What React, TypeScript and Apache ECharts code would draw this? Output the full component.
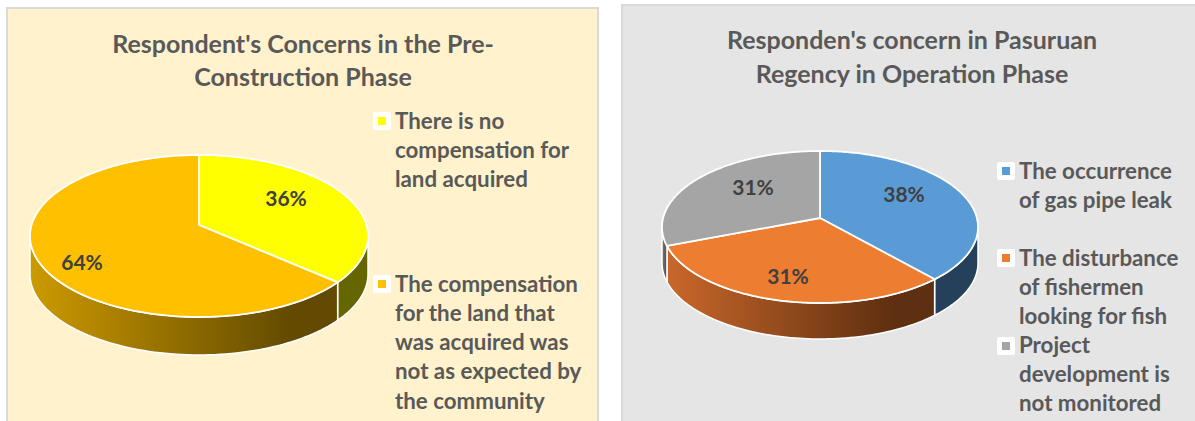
import React, { useEffect, useRef } from "react";
import * as echarts from "echarts";

const leftValues = [36.4, 63.6];
const leftNames = [
  "There is no\ncompensation for\nland acquired",
  "The compensation\nfor the land that\nwas acquired was\nnot as expected by\nthe community",
];
const rightValues = [38.4, 30.8, 30.8];
const rightNames = [
  "The occurrence\nof gas pipe leak",
  "The disturbance\nof fishermen\nlooking for fish",
  "Project\ndevelopment is\nnot monitored",
];
const leftTitle = "Respondent's Concerns in the Pre-\nConstruction Phase";
const rightTitle = "Responden's concern in Pasuruan\nRegency in Operation Phase";

const leftColors = ["#FFFF00", "#FFC000"];
const rightColors = ["#5B9BD5", "#ED7D31", "#A5A5A5"];
const leftWalls = [["#666600", "#666600"], ["#CC9A00", "#634A00"]];
const rightWalls = [["#24405A", "#24405A"], ["#C9672A", "#5E2F10"], ["#777777", "#555555"]];

const FONT = "Lato, Carlito, sans-serif";
const TEXT = "#595959";
const LABEL = "#404040";

const leftGeom = { cx: 199, cy: 225, up: 70, down: 92, rx: 169, depth: 38 };
const rightGeom = { cx: 820, cy: 218, up: 67, down: 85, rx: 158, depth: 36 };
const leftLabelPos = [[286, 198], [82, 262]];
const rightLabelPos = [[904, 194], [788, 276], [753, 187]];
const leftLegendY = [[112, 120], [275, 283]];
const rightLegendY = [[162, 170], [249, 257], [337, 344]];

function project(g: any) {
  const k = (g.down - g.up) / (g.down + g.up);
  const b = g.up * (1 + k);
  const a = g.rx * Math.sqrt(1 - k * k);
  return (r: number, t: number) => {
    const u = r * Math.sin(t);
    const v = r * Math.cos(t);
    const w = 1 + k * v;
    return [g.cx + (a * u) / w, g.cy - (b * v) / w];
  };
}

function pieSeries(values: number[], colors: string[], walls: string[][], g: any, labelPos: number[][]) {
  const total = values.reduce((s, v) => s + v, 0);
  const k = (g.down - g.up) / (g.down + g.up);
  const thetaR = Math.acos(-k);
  const thetaL = 2 * Math.PI - thetaR;
  const map = project(g);
  return {
    type: "custom",
    coordinateSystem: "none",
    silent: true,
    data: values.map((v) => [v]),
    renderItem: (params: any, api: any) => {
      const i = params.dataIndex;
      const before = values.slice(0, i).reduce((s, v) => s + v, 0);
      const a0 = (before / total) * 2 * Math.PI;
      const a1 = ((before + api.value(0)) / total) * 2 * Math.PI;
      const children: any[] = [];
      const w0 = Math.max(a0, thetaR);
      const w1 = Math.min(a1, thetaL);
      if (w1 > w0) {
        const top: number[][] = [];
        const N = 80;
        for (let n = 0; n <= N; n++) top.push(map(1, w0 + ((w1 - w0) * n) / N));
        const bottom = top.map((p) => [p[0], p[1] + g.depth]).reverse();
        children.push({
          type: "polygon",
          z2: 1,
          shape: { points: top.concat(bottom) },
          style: {
            fill: {
              type: "linear", x: 0, y: 0, x2: 1, y2: 0,
              colorStops: [
                { offset: 0, color: walls[i][0] },
                { offset: 0.85, color: walls[i][1] },
                { offset: 1, color: walls[i][1] },
              ],
            },
            stroke: "#ffffff",
            lineWidth: 1.5,
          },
        });
      }
      const pts: number[][] = [[g.cx, g.cy]];
      const M = 160;
      for (let n = 0; n <= M; n++) pts.push(map(1, a0 + ((a1 - a0) * n) / M));
      children.push({
        type: "polygon",
        z2: 2,
        shape: { points: pts },
        style: { fill: colors[i], stroke: "#ffffff", lineWidth: 1.8, lineJoin: "round" },
      });
      children.push({
        type: "text",
        z2: 3,
        style: {
          text: Math.round((api.value(0) / total) * 100) + "%",
          x: labelPos[i][0],
          y: labelPos[i][1] - 1,
          fill: LABEL,
          fontFamily: FONT,
          fontWeight: "bold",
          fontSize: 21,
          align: "center",
          verticalAlign: "middle",
        },
      });
      return { type: "group", children };
    },
  };
}

function legendGraphics(names: string[], colors: string[], ys: number[][], boxX: number, textX: number) {
  const out: any[] = [];
  names.forEach((name, i) => {
    out.push({
      type: "rect", z: 5, shape: { x: boxX, y: ys[i][0], width: 18, height: 18, r: 2 },
      style: { fill: "#ffffff" },
    });
    out.push({
      type: "rect", z: 6, shape: { x: boxX + 5, y: ys[i][0] + 5, width: 8, height: 8 },
      style: { fill: colors[i] },
    });
    name.split("\n").forEach((line, j) => {
      out.push({
        type: "text", z: 6, x: textX, y: ys[i][1] + j * 29.3,
        style: {
          text: line, fill: TEXT, fontFamily: FONT, fontWeight: "bold", fontSize: 22.3,
          verticalAlign: "middle", align: "left",
        },
      });
    });
  });
  return out;
}

export default function App() {
  const ref = useRef<HTMLDivElement>(null);
  useEffect(() => {
    document.body.style.margin = "0";
    const chart = echarts.init(ref.current!, null, { renderer: "svg" });
    chart.setOption({
      animation: false,
      backgroundColor: "#ffffff",
      title: [
        {
          text: leftTitle, left: 298, top: 21, textAlign: "center",
          textStyle: { fontFamily: FONT, fontWeight: "bold", fontSize: 25, lineHeight: 33, color: TEXT },
        },
        {
          text: rightTitle, left: 907, top: 17, textAlign: "center",
          textStyle: { fontFamily: FONT, fontWeight: "bold", fontSize: 25, lineHeight: 34, color: TEXT },
        },
      ],
      graphic: [
        {
          type: "rect", z: -2, shape: { x: 7, y: 8, width: 591, height: 420 },
          style: { fill: "#FFF2CC", stroke: "#D9D9D9", lineWidth: 2 },
        },
        {
          type: "rect", z: -2, shape: { x: 622, y: 5, width: 580, height: 420 },
          style: { fill: "#E5E5E5", stroke: "#D9D9D9", lineWidth: 2 },
        },
        ...legendGraphics(leftNames, leftColors, leftLegendY, 373, 395),
        ...legendGraphics(rightNames, rightColors, rightLegendY, 997, 1019),
      ],
      series: [
        pieSeries(leftValues, leftColors, leftWalls, leftGeom, leftLabelPos),
        pieSeries(rightValues, rightColors, rightWalls, rightGeom, rightLabelPos),
      ],
    });
    return () => chart.dispose();
  }, []);
  return <div ref={ref} style={{ width: 1195, height: 421 }} />;
}
